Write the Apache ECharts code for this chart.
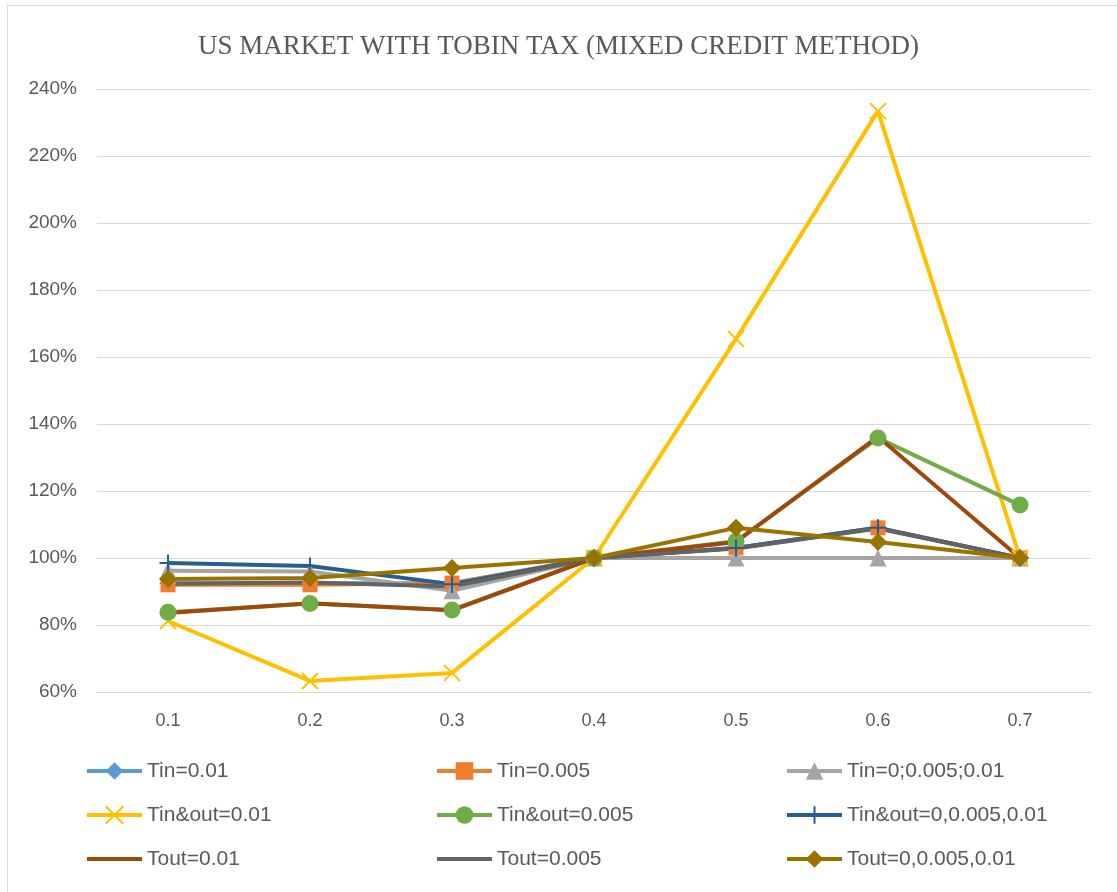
<!DOCTYPE html>
<html>
<head>
<meta charset="utf-8">
<script src="https://cdn.jsdelivr.net/npm/echarts@6/dist/echarts.min.js"></script>
<style>
html,body{margin:0;padding:0;background:#fff;overflow:hidden;}
#wrap{position:relative;width:1117px;height:892px;overflow:hidden;background:#fff;}
#frame{position:absolute;left:7px;top:5px;width:2000px;height:2000px;border-left:1px solid #D9D9D9;border-top:1px solid #D9D9D9;}
#chart{position:absolute;left:0;top:0;width:1117px;height:892px;}
</style>
</head>
<body>
<div id="wrap"><div id="frame"></div><div id="chart"></div></div>
<script>
const categories = ['0.1','0.2','0.3','0.4','0.5','0.6','0.7'];
const yTicks = {min:60, max:240, interval:20};
const tin001 = [92.5, 92.5, 92.5, 100, 103, 109, 100];
const tin0005 = [92, 92, 92.5, 100, 103, 109, 100];
const tinAll = [96.2, 96, 90.2, 100, 100, 100, 100];
const tinout001 = [81.2, 63.3, 65.7, 100, 165.4, 233.4, 100];
const tinout0005 = [83.8, 86.4, 84.5, 100, 105, 135.8, 115.8];
const tinoutAll = [98.5, 97.6, 92.2, 100, 103, 109, 100];
const tout001 = [83.6, 86.5, 84.4, 100, 104.8, 136.2, 100];
const tout0005 = [92.3, 92.7, 91.5, 100, 102.8, 108.8, 100];
const toutAll = [93.7, 94, 97, 100, 109, 104.8, 100];

const seriesDefs = [
  {name:'Tin=0.01', data:tin001, color:'#5B9BD5', symbol:'diamond', size:17},
  {name:'Tin=0.005', data:tin0005, color:'#ED7D31', symbol:'rect', size:15},
  {name:'Tin=0;0.005;0.01', data:tinAll, color:'#A5A5A5', symbol:'triangle', size:17},
  {name:'Tin&out=0.01', data:tinout001, color:'#FFC000', symbol:'path://M0,0L10,10M10,0L0,10', size:16, stroke:true},
  {name:'Tin&out=0.005', data:tinout0005, color:'#70AD47', symbol:'circle', size:17},
  {name:'Tin&out=0,0.005,0.01', data:tinoutAll, color:'#255E91', symbol:'path://M5,0L5,10M0,5L10,5', size:17, stroke:true},
  {name:'Tout=0.01', data:tout001, color:'#9E480E', symbol:'none', size:0},
  {name:'Tout=0.005', data:tout0005, color:'#636363', symbol:'none', size:0},
  {name:'Tout=0,0.005,0.01', data:toutAll, color:'#997300', symbol:'diamond', size:18}
];

const series = seriesDefs.map(d => ({
  name: d.name,
  type: 'line',
  data: d.data,
  symbol: d.symbol === 'none' ? 'circle' : d.symbol,
  symbolSize: d.size,
  showSymbol: d.symbol !== 'none',
  lineStyle: {color: d.color, width: 4},
  itemStyle: d.stroke ? {color: d.color, borderColor: d.color, borderWidth: 2} : {color: d.color, borderWidth: 0},
  emphasis: {disabled: true},
  animation: false
}));

const legendText = {fontFamily:'Liberation Sans', fontSize:21, color:'#595959', lineHeight:22};
const cols = [[0,3,6],[1,4,7],[2,5,8]];
const lefts = [85, 435, 785];
const legends = cols.map((c, i) => ({
  orient: 'vertical',
  left: lefts[i],
  top: 760,
  padding: 0,
  itemGap: 22,
  itemWidth: 55,
  itemHeight: 22,
  lineStyle: {width: 4},
  data: c.map(k => {
    const d = seriesDefs[k];
    return d.symbol === 'none' ? {name: d.name, itemStyle: {opacity: 0}} : {name: d.name};
  }),
  textStyle: legendText,
  selectedMode: false
}));

const chart = echarts.init(document.getElementById('chart'));
chart.setOption({
  backgroundColor: 'transparent',
  animation: false,
  title: {
    text: 'US MARKET WITH TOBIN TAX (MIXED CREDIT METHOD)',
    left: 'center',
    top: 28,
    textStyle: {fontFamily:'Liberation Serif', fontSize:27, fontWeight:'normal', color:'#595959'}
  },
  legend: legends,
  grid: {left: 97, right: 26, top: 89, bottom: 200, containLabel: false},
  xAxis: {
    type: 'category',
    data: categories,
    boundaryGap: true,
    axisLine: {show: true, lineStyle: {color: '#D9D9D9', width: 1}},
    axisTick: {show: false},
    axisLabel: {fontFamily:'Liberation Sans', fontSize:18, color:'#595959', margin: 20}
  },
  yAxis: {
    type: 'value',
    min: yTicks.min, max: yTicks.max, interval: yTicks.interval,
    axisLine: {show: false},
    axisTick: {show: false},
    splitLine: {lineStyle: {color: '#D9D9D9', width: 1}},
    axisLabel: {fontFamily:'Liberation Sans', fontSize:19, color:'#595959', margin: 20, formatter: v => v + '%'}
  },
  series: series
});
</script>
</body>
</html>
